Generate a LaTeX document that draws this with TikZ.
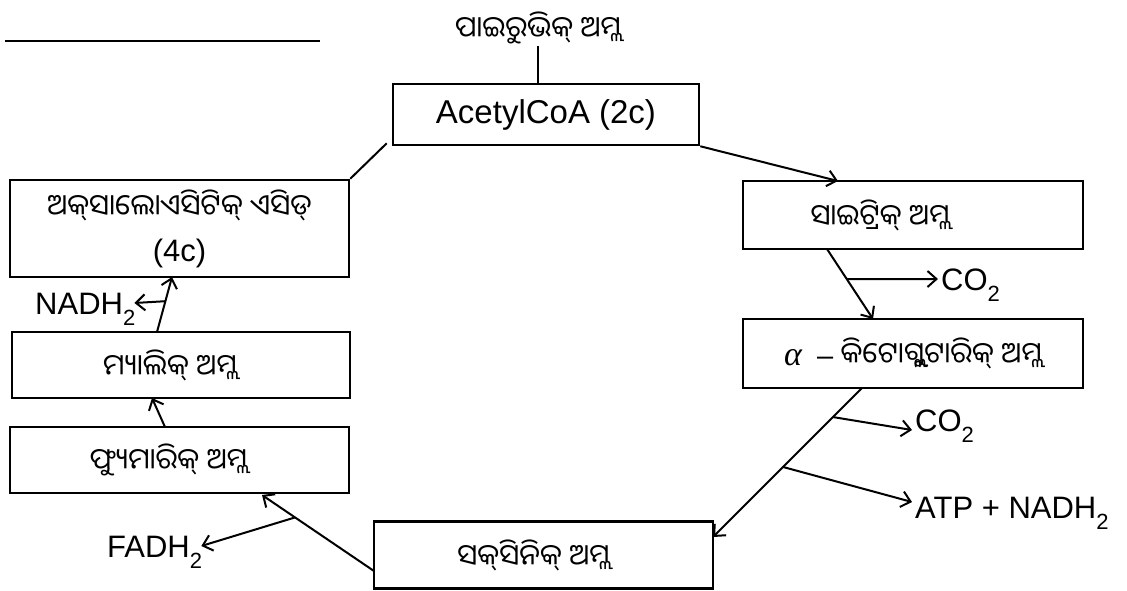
\documentclass[tikz,border=0pt]{standalone}
\usepackage{fontspec}
\setmainfont{Liberation Sans}
\newfontfamily\odia[Script=Oriya]{Noto Sans Oriya UI}
\newfontfamily\serifgr{Liberation Serif}
\usetikzlibrary{arrows.meta,calc}
\newcommand\subtwo{\raisebox{-11pt}{\fontsize{22}{22}\selectfont 2}}
\newcommand\zwnj{^^^^200c}
\newcommand\latf{\rmfamily\fontsize{31}{36}\selectfont}
\begin{document}
\begin{tikzpicture}[x=1pt,y=-1pt,
  box/.style={draw, line width=2.5pt, inner sep=0pt, font=\odia\fontsize{29}{34}\selectfont},
  conn/.style={line width=2pt},
  arr/.style={line width=2pt,-{Straight Barb[length=9pt,width=16pt]}},
  lab/.style={font=\latf, inner sep=3pt, text height=22pt, text depth=0pt, anchor=west}]
\useasboundingbox (0,0) rectangle (1127,590);

% boxes
\node[box, minimum width=306pt, minimum height=61pt, font=\rmfamily\fontsize{33}{36}\selectfont] (acetyl) at (546,114.5) {AcetylCoA (2c)};
\node[box, minimum width=339pt, minimum height=97pt, align=center] (oxalo) at (179.5,228.5) {ଅକ୍\zwnj ସାଲୋଏସିଟିକ୍ ଏସିଡ୍\\[10pt]{\latf (4c)}};
\node[box, minimum width=340pt, minimum height=68pt] (citric) at (913,215) {ସାଇଟ୍ରିକ୍ ଅମ୍ଲ\hspace*{66pt}};
\node[box, minimum width=340pt, minimum height=69pt] (alpha) at (913,353.5) {{\serifgr\itshape\fontsize{34}{34}\selectfont α}\ \ {\rmfamily –}\ କିଟୋଗ୍ଲୁଟାରିକ୍ ଅମ୍ଲ};
\node[box, minimum width=339pt, minimum height=67pt] (succ) at (543.5,555) {ସକ୍\zwnj ସିନିକ୍ ଅମ୍ଲ\hspace*{20pt}};
\node[box, minimum width=339pt, minimum height=66pt] (fum) at (179.5,460) {ଫ୍ୟୁମାରିକ୍ ଅମ୍ଲ\hspace*{22pt}};
\node[box, minimum width=338pt, minimum height=66pt] (mal) at (181,365) {ମ୍ୟାଲିକ୍ ଅମ୍ଲ\hspace*{22pt}};

% top text
\node[font=\odia\fontsize{29}{34}\selectfont, inner sep=2pt] (pyr) at (538,28) {ପାଇରୁଭିକ୍ ଅମ୍ଲ};
\draw[line width=2.5pt] (pyr.south) -- (pyr.south |- acetyl.north);

% side labels
\node[lab] (co2a) at (938,279) {CO\subtwo};
\node[lab] (co2b) at (912,420) {CO\subtwo};
\node[lab] (atp) at (912,507) {ATP + NADH\subtwo};
\node[lab] (nadh) at (32,303) {NADH\subtwo};
\node[lab] (fadh) at (104,546) {FADH\subtwo};

% free line top left
\draw[line width=1.5pt] (5,41) -- (320,41);

% connectors
\coordinate (c1) at (838,181);
\draw[arr] (acetyl.south east) -- (c1);

\coordinate (c2s) at (827,249);
\coordinate (c2e) at (873,319);
\draw[arr] (c2s) -- (c2e);
\coordinate (b1) at ($(c2s)!0.43!(c2e)$);
\draw[arr] (b1) -- (co2a.west);

\coordinate (a1) at (862,388);
\coordinate (a2) at (713,537);
\draw[arr] (a1) -- (a2);
\coordinate (b2) at ($(a1)!0.195!(a2)$);
\draw[arr] (b2) -- ([yshift=-10pt]co2b.west);
\coordinate (b3) at ($(a1)!0.53!(a2)$);
\draw[arr] (b3) -- ([yshift=5pt]atp.west);

\coordinate (s1) at (374,571);
\coordinate (f1) at (262,495);
\draw[arr] (s1) -- (f1);
\coordinate (b4) at ($(s1)!0.705!(f1)$);
\draw[arr] (b4) -- ([xshift=-4pt]fadh.east);

\coordinate (fm1) at (165,427);
\coordinate (fm2) at (152,398);
\draw[arr] (fm1) -- (fm2);

\coordinate (mo1) at (157,332);
\coordinate (mo2) at (172,277);
\draw[arr] (mo1) -- (mo2);
\coordinate (b5) at ($(mo1)!0.56!(mo2)$);
\draw[arr] (b5) -- ([xshift=-4pt]nadh.east);

\draw[conn] (oxalo.north east) -- ([xshift=-5pt,yshift=3pt]acetyl.south west);
\end{tikzpicture}
\end{document}
